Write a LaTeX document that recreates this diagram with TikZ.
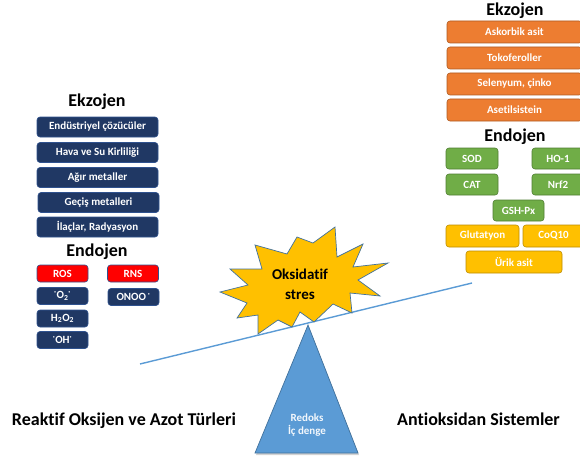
\documentclass[tikz,border=0pt]{standalone}
\usepackage{fontspec}
\setmainfont{Carlito}[Ligatures=NoCommon]
\usetikzlibrary{shadows}
\definecolor{navyfill}{HTML}{203864}
\definecolor{navyline}{HTML}{2F528F}
\definecolor{redfill}{HTML}{FF0000}
\definecolor{orangefill}{HTML}{ED7D31}
\definecolor{orangeline}{HTML}{AE5A21}
\definecolor{greenfill}{HTML}{70AD47}
\definecolor{greenline}{HTML}{507E32}
\definecolor{goldfill}{HTML}{FFC000}
\definecolor{goldline}{HTML}{BC8C00}
\definecolor{bluefill}{HTML}{5B9BD5}
\definecolor{blueline}{HTML}{41719C}
\tikzset{
  boxbase/.style={rounded corners=3pt, line width=0.6pt, text=white,
    font=\fontsize{11}{12}\selectfont\bfseries, inner sep=0pt, align=center},
  navybox/.style={boxbase, fill=navyfill, draw=navyline, minimum width=121pt, minimum height=20pt},
  smallnavy/.style={boxbase, fill=navyfill, draw=navyline, minimum width=51pt, minimum height=17pt},
  redbox/.style={boxbase, fill=redfill, draw=navyline, minimum width=51pt, minimum height=17pt},
  orangebox/.style={boxbase, fill=orangefill, draw=orangeline, minimum width=135pt, minimum height=22pt},
  greenbox/.style={boxbase, fill=greenfill, draw=greenline, minimum width=52pt, minimum height=21pt},
  goldbox/.style={boxbase, fill=goldfill, draw=goldline, minimum height=22pt},
  heading/.style={font=\fontsize{18}{20}\selectfont\bfseries, text=black, inner sep=0pt},
  beam/.style={draw=bluefill, line width=1.4pt},
  burst/.style={fill=goldfill, draw=blueline, line width=0.7pt, line join=miter},
  fulcrum/.style={fill=bluefill, draw=blueline, line width=0.7pt,
    drop shadow={opacity=0.35, shadow xshift=1pt, shadow yshift=-2pt}},
}
\begin{document}
\begin{tikzpicture}[x=1pt,y=-1pt]
\useasboundingbox (0,0) rectangle (580,468);
\clip (0,0) rectangle (580,468);

% left side
\node[heading] (lekz) at (97,102) {Ekzojen};
\node[navybox] (l1) at (97.5,127) {Endüstriyel çözücüler};
\node[navybox] (l2) at (97.5,152.5) {Hava ve Su Kirliliği};
\node[navybox] (l3) at (97.5,177.5) {Ağır metaller};
\node[navybox] (l4) at (98.5,202.5) {Geçiş metalleri};
\node[navybox] (l5) at (97.5,227) {İlaçlar, Radyasyon};
\node[heading] (lendo) at (97,252) {Endojen};
\node[redbox] (ros) at (62.5,273.5) {ROS};
\node[redbox] (rns) at (133,273.5) {RNS};
\node[smallnavy] (o2) at (62.5,296) {\textsuperscript{·}O\textsubscript{2}\textsuperscript{·}};
\node[smallnavy] (onoo) at (133.5,297) {ONOO\,\textsuperscript{·}};
\node[smallnavy] (h2o2) at (62.5,318.5) {H\textsubscript{2}O\textsubscript{2}};
\node[smallnavy] (oh) at (62.5,340) {\textsuperscript{·}OH\textsuperscript{·}};

% right side
\node[heading] (rekz) at (515,11) {Ekzojen};
\node[orangebox] (r1) at (514.5,32) {Askorbik asit};
\node[orangebox] (r2) at (514.5,58) {Tokoferoller};
\node[orangebox] (r3) at (514.5,84) {Selenyum, çinko};
\node[orangebox] (r4) at (514.5,110) {Asetilsistein};
\node[heading] (rendo) at (515,137) {Endojen};
\node[greenbox] (sod) at (472,158.5) {SOD};
\node[greenbox] (ho) at (558,158.5) {HO-1};
\node[greenbox] (cat) at (472,184.5) {CAT};
\node[greenbox] (nrf) at (558,184.5) {Nrf2};
\node[greenbox, minimum width=51pt] (gsh) at (518.5,210.5) {GSH-Px};
\node[goldbox, minimum width=73pt] (glu) at (482.5,236) {Glutatyon};
\node[goldbox, minimum width=61pt] (coq) at (553.5,236) {CoQ10};
\node[goldbox, minimum width=96pt] (urik) at (514,262) {Ürik asit};

% balance beam
\coordinate (bl) at (140,364);
\coordinate (br) at (472,283);
\draw[beam] (bl) -- (br);

% burst
\draw[burst] (297,237) -- (313,243) -- (335,227) -- (337,257) -- (363,244) -- (353,267)
  -- (388,263) -- (358,280) -- (380,296) -- (350,293) -- (352,313) -- (333,304)
  -- (314,322) -- (300,312) -- (292,327) -- (278,320) -- (258,334) -- (258,315)
  -- (237,318) -- (247,303) -- (220,292) -- (248,285) -- (230,269) -- (262,269)
  -- (255,245) -- (287,254) -- cycle;
\node[font=\fontsize{15}{20}\selectfont\bfseries, align=center, inner sep=0pt] (stres) at (300,284) {Oksidatif\\stres};

% fulcrum
\coordinate (apex) at (308,325);
\coordinate (baseR) at (358,453);
\coordinate (baseL) at (255,453);
\path[fulcrum] (apex) -- (baseR) -- (baseL) -- cycle;
\node[font=\fontsize{11}{13}\selectfont\bfseries, text=white!92!bluefill, align=center, inner sep=0pt] (redoks) at (307,425.5) {Redoks\\İç denge};

% bottom titles
\node[heading] (ros title) at (124,421) {Reaktif Oksijen ve Azot Türleri};
\node[heading] (ao title) at (478.5,419) {Antioksidan Sistemler};
\end{tikzpicture}
\end{document}
